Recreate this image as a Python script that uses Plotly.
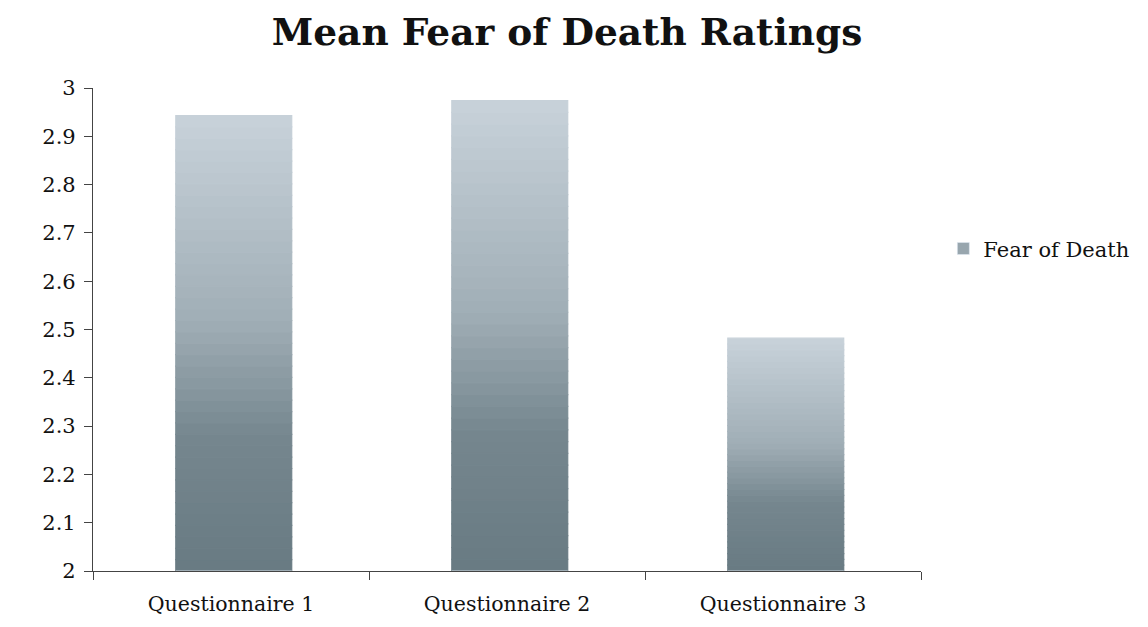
import plotly.graph_objects as go
import numpy as np

categories = ["Questionnaire 1", "Questionnaire 2", "Questionnaire 3"]
values = [2.943, 2.974, 2.482]
series_name = "Fear of Death"
y_ticks = [2, 2.1, 2.2, 2.3, 2.4, 2.5, 2.6, 2.7, 2.8, 2.9, 3]
y_tick_labels = ["2", "2.1", "2.2", "2.3", "2.4", "2.5", "2.6", "2.7", "2.8", "2.9", "3"]

FONT = "DejaVu Serif"
base0 = 2.0
N = 40
stops = [(0.0, (104, 122, 130)), (0.3, (118, 135, 143)), (0.55, (160, 174, 182)), (1.0, (200, 210, 218))]

def col(t):
    for (t0, c0), (t1, c1) in zip(stops[:-1], stops[1:]):
        if t <= t1:
            f = (t - t0) / (t1 - t0)
            c = [round(a + (b - a) * f) for a, b in zip(c0, c1)]
            return "rgb(%d,%d,%d)" % tuple(c)
    return "rgb(%d,%d,%d)" % stops[-1][1]

fig = go.Figure()
vals = np.array(values)
for k in range(N):
    t = (k + 0.5) / N
    c = col(t)
    bases = base0 + (vals - base0) * k / N
    heights = (vals - base0) / N
    fig.add_trace(go.Bar(
        x=categories, y=heights, base=bases, width=0.42, offset=-0.2,
        marker=dict(color=c, line=dict(color=c, width=1.2)),
        name=series_name, showlegend=False, hoverinfo="skip",
    ))
# legend entry
fig.add_trace(go.Bar(
    x=categories, y=[0, 0, 0], base=[base0] * 3, width=0.42, offset=-0.2,
    marker=dict(color=col(0.5)), name=series_name, showlegend=True,
))

fig.update_layout(
    width=1140, height=619,
    margin=dict(l=85, r=227, t=80, b=56),
    paper_bgcolor="white", plot_bgcolor="white",
    barmode="overlay",
    title=dict(text="<b>Mean Fear of Death Ratings</b>", x=559 / 1140, xanchor="center",
               y=1 - 24 / 619, yanchor="middle", xref="container", yref="container",
               font=dict(family=FONT, size=37.5, color="#111")),
    font=dict(family=FONT, size=20.5, color="#111"),
    showlegend=True,
    legend=dict(x=1.027, xanchor="left", y=0.667, yanchor="middle",
                font=dict(family=FONT, size=21, color="#111"), bgcolor="rgba(0,0,0,0)"),
    xaxis=dict(type="category", showline=True, linecolor="#444", linewidth=1.2,
               ticks="outside", tickson="boundaries", ticklen=8, tickcolor="#444",
               showgrid=False, tickfont=dict(family=FONT, size=20.5, color="#111"),
               ticklabelstandoff=14, range=[-0.5, 2.5]),
    yaxis=dict(range=[2, 3], tickvals=y_ticks, ticktext=y_tick_labels,
               showline=True, linecolor="#444", linewidth=1.2,
               ticks="outside", ticklen=8, tickcolor="#444", showgrid=False,
               ticklabelstandoff=4,
               zeroline=False, tickfont=dict(family=FONT, size=21, color="#111")),
)

fig.write_html("out.html")
